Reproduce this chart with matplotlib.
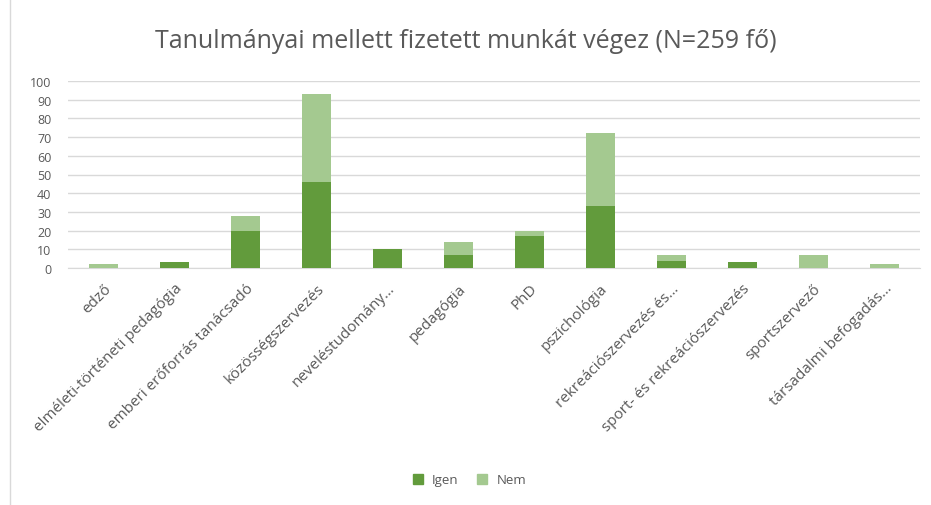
import matplotlib
matplotlib.use("Agg")
import matplotlib.pyplot as plt
from matplotlib.lines import Line2D
import numpy as np

plt.rcParams['font.family'] = ['Open Sans', 'DejaVu Sans']

categories = ["edző", "elméleti-történeti pedagógia", "emberi erőforrás tanácsadó",
              "közösségszervezés", "neveléstudomány…", "pedagógia", "PhD",
              "pszichológia", "rekreációszervezés és…", "sport- és rekreációszervezés",
              "sportszervező", "társadalmi befogadás…"]
igen = [0, 3, 20, 46, 10, 7, 17, 33, 4, 3, 0, 0]
nem = [2, 0, 8, 47, 0, 7, 3, 39, 3, 0, 7, 2]

dark = "#629b3c"
light = "#a4c990"
txt = "#595959"

fig = plt.figure(figsize=(9.31, 5.06), dpi=100)
ax = fig.add_axes([68 / 931, 1 - 269 / 506, 852 / 931, 187 / 506])

x = np.arange(len(categories))
ax.bar(x, igen, width=0.41, color=dark, label="Igen", zorder=3)
ax.bar(x, nem, width=0.41, bottom=igen, color=light, label="Nem", zorder=3)

ax.set_xlim(-0.5, len(categories) - 0.5)
ax.set_ylim(0, 100)
ax.set_yticks(range(0, 101, 10))
ax.grid(axis="y", color="#d9d9d9", linewidth=1, zorder=0)
for s in ["top", "right", "left"]:
    ax.spines[s].set_visible(False)
ax.spines["bottom"].set_color("#d9d9d9")
ax.tick_params(axis="both", length=0, colors=txt)
ax.tick_params(axis="y", pad=12, labelsize=9)
ax.set_xticks(x)
ax.set_xticklabels(categories, rotation=45, ha="right", rotation_mode="anchor")
ax.tick_params(axis="x", pad=9, labelsize=11)

fig.text(0.5, 1 - 42 / 506, "Tanulmányai mellett fizetett munkát végez (N=259 fő)",
         ha="center", va="center", fontsize=18, color=txt)

handles = [Line2D([], [], marker="s", linestyle="", color=dark, markersize=7),
           Line2D([], [], marker="s", linestyle="", color=light, markersize=7)]
fig.legend(handles, ["Igen", "Nem"], loc="center", bbox_to_anchor=(0.5, 1 - 481 / 506),
           ncol=2, frameon=False, fontsize=9.5, handletextpad=0.1, columnspacing=0.8,
           labelcolor=txt)

fig.add_artist(Line2D([10 / 931, 10 / 931], [0, 1], color="#d9d9d9", linewidth=1))

fig.savefig("out.png", dpi=100)
